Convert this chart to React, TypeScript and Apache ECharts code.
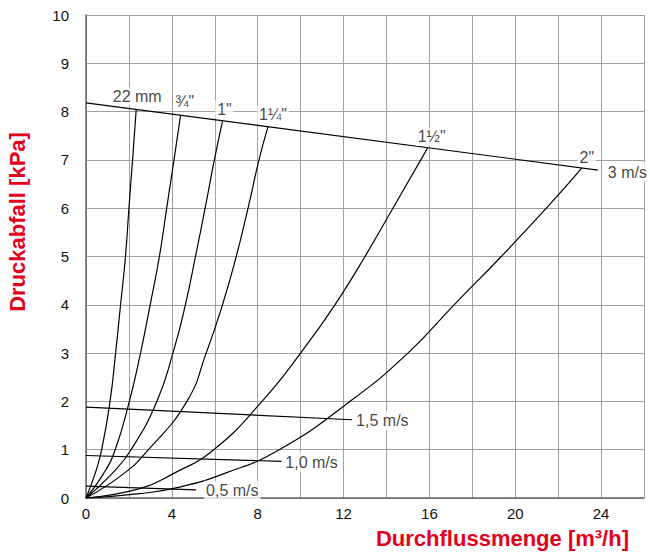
import React, { useEffect, useRef } from 'react';
import * as echarts from 'echarts';

// Flow rate axis ticks [m³/h] and pressure drop ticks [kPa]
const xLabelTicks = [0, 4, 8, 12, 16, 20, 24];

// Pipe size curves: [flow m³/h, pressure drop kPa]
const pipeNames = ['22 mm', '¾"', '1"', '1¼"', '1½"', '2"'];
const pipe22mm = [[0, 0], [0.42, 0.5], [0.73, 1], [1.12, 2], [1.38, 3], [1.61, 4], [1.84, 5], [2.0, 6], [2.17, 7], [2.34, 8.05]];
const pipe34 = [[0, 0], [0.81, 0.5], [1.36, 1], [2.02, 2], [2.54, 3], [2.99, 4], [3.42, 5], [3.76, 6], [4.1, 7], [4.41, 7.93]];
const pipe1 = [[0, 0], [1.2, 0.5], [2.1, 1], [3.3, 2], [4.05, 3], [4.63, 4], [5.1, 5], [5.55, 6], [5.98, 7], [6.36, 7.8]];
const pipe114 = [[0, 0], [1.74, 0.5], [2.91, 1], [4.7, 2], [5.6, 3], [6.36, 4], [7.0, 5], [7.55, 6], [8.06, 7], [8.48, 7.69]];
const pipe112 = [[0, 0], [2.55, 0.2], [4.05, 0.5], [5.95, 1], [8.2, 2], [10.0, 3], [11.6, 4], [13.0, 5], [14.3, 6], [15.6, 7], [15.92, 7.25]];
const pipe2 = [[0, 0], [2.5, 0.09], [4.3, 0.22], [6.4, 0.5], [9.0, 1], [12.3, 2], [15.0, 3], [17.15, 4], [19.35, 5], [21.45, 6], [23.1, 6.83]];
const pipeCurves = [pipe22mm, pipe34, pipe1, pipe114, pipe112, pipe2];

// Velocity lines
const velocityNames = ['3 m/s', '1,5 m/s', '1,0 m/s', '0,5 m/s'];
const v30 = [[0, 8.18], [23.85, 6.79]];
const v15 = [[0, 1.88], [12.4, 1.62]];
const v10 = [[0, 0.88], [9.1, 0.76]];
const v05 = [[0, 0.245], [5.13, 0.17]];
const velocityLines = [v30, v15, v10, v05];

const FONT = "'Liberation Sans', Arial, Helvetica, sans-serif";
const RED = '#e2001a';

export default function App() {
  const ref = useRef<HTMLDivElement>(null);

  useEffect(() => {
    document.body.style.margin = '0';
    const chart = echarts.init(ref.current!, null, { renderer: 'svg' });

    const pipeOffsets = [[1, -13], [4, -13], [2, -12], [5, -12], [4, -11], [5, -11]];
    const velOffsets = [[8, 2], [2, 1], [2, 1], [8, 1]];

    const lineSeries: any[] = [];
    pipeCurves.forEach((c, i) => {
      lineSeries.push({
        type: 'line',
        name: pipeNames[i],
        data: c,
        smooth: 0.5,
        symbol: 'none',
        lineStyle: { color: '#000', width: 1.2 },
        z: 3,
      });
    });
    velocityLines.forEach((c, i) => {
      lineSeries.push({
        type: 'line',
        name: velocityNames[i],
        data: c,
        symbol: 'none',
        lineStyle: { color: '#000', width: 1.2 },
        z: 3,
      });
    });

    const option: any = {
      animation: false,
      grid: { left: 86, right: 6, top: 15, bottom: 55, containLabel: false },
      xAxis: {
        type: 'value',
        min: 0,
        max: 26,
        interval: 2,
        axisLine: { show: true, lineStyle: { color: '#666', width: 1.5 } },
        axisTick: { show: false },
        splitLine: { show: true, lineStyle: { color: '#a0a0a0', width: 1 } },
        axisLabel: {
          margin: 8,
          fontSize: 15,
          color: '#111',
          fontFamily: FONT,
          formatter: (v: number) => (xLabelTicks.includes(v) ? String(v) : ''),
        },
      },
      yAxis: {
        type: 'value',
        min: 0,
        max: 10,
        interval: 1,
        axisLine: { show: true, lineStyle: { color: '#666', width: 1.5 } },
        axisTick: { show: false },
        splitLine: { show: true, lineStyle: { color: '#a0a0a0', width: 1 } },
        axisLabel: { margin: 17, fontSize: 15, color: '#111', fontFamily: FONT },
      },
      graphic: [
        {
          type: 'text',
          x: 17,
          y: 222,
          rotation: Math.PI / 2,
          style: {
            text: 'Druckabfall [kPa]',
            font: `bold 22px ${FONT}`,
            fill: RED,
            align: 'center',
            verticalAlign: 'middle',
          },
        },
        {
          type: 'text',
          x: 629,
          y: 538,
          style: {
            text: 'Durchflussmenge [m³/h]',
            font: `bold 22px ${FONT}`,
            fill: RED,
            align: 'right',
            verticalAlign: 'middle',
          },
        },
      ],
      series: [
        ...lineSeries,
        {
          type: 'scatter',
          name: 'pipeLabels',
          symbolSize: 1,
          itemStyle: { color: 'rgba(0,0,0,0)' },
          z: 4,
          silent: true,
          label: {
            show: true,
            position: 'inside',
            formatter: '{b}',
            color: '#111',
            fontSize: 16,
            fontFamily: FONT,
            backgroundColor: '#fff',
            padding: [1, 2],
          },
          data: pipeCurves.map((c, i) => ({
            name: pipeNames[i],
            value: c[c.length - 1],
            label: { offset: pipeOffsets[i] },
          })),
        },
        {
          type: 'scatter',
          name: 'velocityLabels',
          symbolSize: 1,
          itemStyle: { color: 'rgba(0,0,0,0)' },
          z: 4,
          silent: true,
          label: {
            show: true,
            position: 'inside',
            align: 'left',
            formatter: '{b}',
            color: '#111',
            fontSize: 16,
            fontFamily: FONT,
            backgroundColor: '#fff',
            padding: [2, 2],
          },
          data: velocityLines.map((c, i) => ({
            name: velocityNames[i],
            value: c[c.length - 1],
            label: { offset: velOffsets[i] },
          })),
        },
      ],
    };

    chart.setOption(option);
    return () => chart.dispose();
  }, []);

  return <div ref={ref} style={{ width: 650, height: 553 }} />;
}
